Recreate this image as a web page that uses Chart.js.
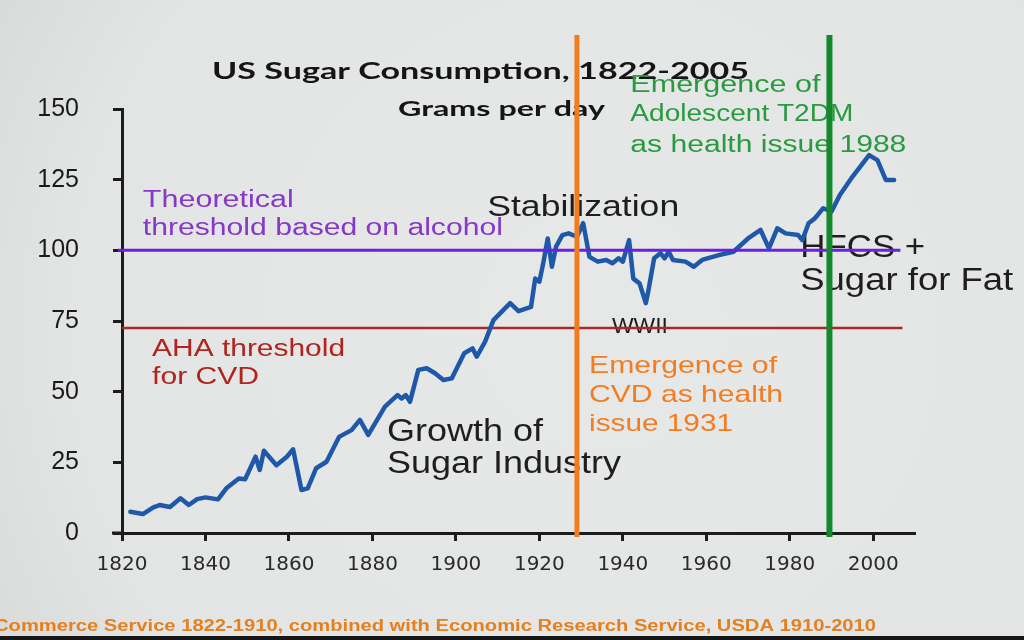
<!DOCTYPE html>
<html>
<head>
<meta charset="utf-8">
<script src="https://cdn.jsdelivr.net/npm/chart.js@4"></script>
<style>
html,body{margin:0;padding:0;background:#e3e5e4;overflow:hidden}
#c{display:block}
</style>
</head>
<body>
<canvas id="c" width="1024" height="640"></canvas>
<script>
// ---- data ----
const years = [1822,1825,1827.5,1829,1831.5,1834,1836,1838,1840,1843,1845,1848,1849.5,1852,1853,1854,1857,1859.5,1861,1863,1864.5,1866.5,1869,1872,1875,1877,1879,1883,1886,1887,1888,1889,1891,1893,1895,1897,1899,1902,1904,1905,1907,1909,1911,1913,1915,1918,1919,1920,1921,1922,1923,1924,1925.5,1927,1929,1930.5,1932,1934,1936,1937.5,1939,1940,1941.5,1942.5,1944,1945.5,1946,1947.5,1949,1950,1951,1952,1955,1957,1959,1963,1966.5,1970,1973,1975,1977,1979,1982,1983,1984.5,1986,1988,1990,1992,1995,1999,2001,2003,2005];
const grams = [7.5,6.7,9.1,9.9,9.2,12.3,9.9,12,12.6,11.9,15.8,19.3,19,27,22.3,29.1,24,27,29.6,15.2,15.8,22.9,25.2,34,36.4,40,34.7,44.7,48.8,47.6,48.8,46.4,57.7,58.3,56.5,54.1,54.7,63.6,65.3,62.4,67.7,75.3,78.3,81.3,78.5,80,90,88.9,96,104.2,94.2,101.3,105.4,106,104.8,109.6,97.7,96,96.6,95.4,97.2,96,103.6,90,88.3,81.3,84.8,97.2,99,97.2,99.5,96.6,96,94.2,96.6,98.3,99.5,104.2,107.2,100.7,107.8,106,105.4,103.6,109.6,111.3,114.9,113.7,119.6,126,133.7,131.9,124.9,124.9];
const alcoholYears = [1819, 2006.5];
const alcoholValues = [100, 100];
const ahaYears = [1820, 2007];
const ahaValues = [72.5, 72.5];
const eventYears = [1929, 1989.5];   // CVD emergence line, T2DM emergence line
const yTicks = [0, 25, 50, 75, 100, 125, 150];
const xTicks = [1820, 1840, 1860, 1880, 1900, 1920, 1940, 1960, 1980, 2000];

// ---- styles ----
const C = {
  blue:'#1f58a8', purpleLine:'#6c1fe3', purpleText:'#8638c9',
  redLine:'#a8282b', redText:'#b0231f', orange:'#f47c20',
  greenLine:'#13892b', greenText:'#2a9a40', dark:'#1c1c1c'
};
const F = '"Liberation Sans", Arial, sans-serif';

// annotation texts, anchored in data coordinates (year, grams)
const notes = [
  {t:'Theoretical', yr:1825, v:117.4, w:151, size:23, color:C.purpleText},
  {t:'threshold based on alcohol', yr:1825, v:107.5, w:360, size:23, color:C.purpleText},
  {t:'Stabilization', yr:1907.5, v:115.0, w:192, size:29, color:'#1e1e1e'},
  {t:'AHA threshold', yr:1827.2, v:64.7, w:193, size:23, color:C.redText},
  {t:'for CVD', yr:1827.2, v:54.8, w:107, size:23, color:C.redText},
  {t:'WWII', yr:1937.4, v:72.9, w:56, size:22, color:'#1e1e1e'},
  {t:'Emergence of', yr:1931.9, v:59.1, w:188, size:24, color:C.orange},
  {t:'CVD as health', yr:1931.9, v:48.8, w:194, size:24, color:C.orange},
  {t:'issue 1931', yr:1931.9, v:38.6, w:144, size:24, color:C.orange},
  {t:'Growth of', yr:1883.5, v:35.7, w:156, size:31, color:'#1e1e1e'},
  {t:'Sugar Industry', yr:1883.5, v:24.1, w:234, size:31, color:'#1e1e1e'},
  {t:'Emergence of', yr:1941.8, v:158.1, w:190, size:23, color:C.greenText},
  {t:'Adolescent T2DM', yr:1941.8, v:147.9, w:223, size:23, color:C.greenText},
  {t:'as health issue 1988', yr:1941.8, v:137.2, w:276, size:23, color:C.greenText},
  {t:'HFCS +', yr:1982.5, v:100.5, w:125, size:31, color:'#1e1e1e'},
  {t:'Sugar for Fat', yr:1982.5, v:89.1, w:213, size:31, color:'#1e1e1e'}
];

function drawStretched(ctx, text, x, y, width, font, color) {
  ctx.save();
  ctx.font = font;
  ctx.fillStyle = color;
  ctx.textBaseline = 'middle';
  ctx.textAlign = 'left';
  const m = ctx.measureText(text).width;
  ctx.translate(x, y);
  ctx.scale(width / m, 1);
  ctx.fillText(text, 0, 0);
  ctx.restore();
}

const deco = {
  id: 'deco',
  beforeDraw(chart) {
    const ctx = chart.ctx, W = chart.width, H = chart.height;
    ctx.save();
    const g = ctx.createRadialGradient(600, 330, 100, 600, 330, 760);
    g.addColorStop(0, '#e6e8e7');
    g.addColorStop(0.65, '#e3e5e4');
    g.addColorStop(1, '#d3d6d6');
    ctx.fillStyle = g;
    ctx.fillRect(0, 0, W, H);
    ctx.fillStyle = '#161616';
    ctx.fillRect(0, 636, W, H - 636);
    ctx.restore();
  },
  beforeDatasetsDraw(chart) {
    const ctx = chart.ctx;
    const xs = chart.scales.x, ys = chart.scales.y, area = chart.chartArea;
    // small extension of the x-axis line to the left of the y-axis, as in the slide
    ctx.save();
    ctx.strokeStyle = C.dark; ctx.lineWidth = 3;
    ctx.beginPath(); ctx.moveTo(area.left - 10, area.bottom); ctx.lineTo(area.left, area.bottom); ctx.stroke();
    ctx.restore();
    drawStretched(ctx, 'US Sugar Consumption, 1822-2005', 212, 72, 537, 'bold 22px Lato, "Open Sans", sans-serif', '#151515');
    drawStretched(ctx, 'Grams per day', 398, 110, 207, 'bold 20px Lato, "Open Sans", sans-serif', '#151515');
    notes.forEach(n => {
      drawStretched(ctx, n.t, xs.getPixelForValue(n.yr), ys.getPixelForValue(n.v), n.w, n.size + 'px ' + F, n.color);
    });
    drawStretched(ctx, 'Commerce Service 1822-1910, combined with Economic Research Service, USDA 1910-2010', -6, 627, 882, 'bold 16px "Liberation Sans Narrow", "Liberation Sans", sans-serif', '#e4801f');
  },
  afterDatasetsDraw(chart) {
    const ctx = chart.ctx;
    const xs = chart.scales.x, area = chart.chartArea;
    const cols = [C.orange, C.greenLine], widths = [5, 6];
    eventYears.forEach((yr, i) => {
      const x = xs.getPixelForValue(yr);
      ctx.save();
      ctx.strokeStyle = cols[i];
      ctx.lineWidth = widths[i];
      ctx.beginPath();
      ctx.moveTo(x, 35);
      ctx.lineTo(x, area.bottom + 4);
      ctx.stroke();
      ctx.restore();
    });
  }
};

const toPts = (xa, ya) => xa.map((x, i) => ({x, y: ya[i]}));

new Chart(document.getElementById('c'), {
  type: 'line',
  data: {
    datasets: [
      {data: toPts(years, grams), borderColor: C.blue, borderWidth: 4.5, pointRadius: 0, tension: 0, order: 1, borderJoinStyle: 'round', borderCapStyle: 'round'},
      {data: toPts(alcoholYears, alcoholValues), borderColor: C.purpleLine, borderWidth: 3, pointRadius: 0, order: 0, clip: false},
      {data: toPts(ahaYears, ahaValues), borderColor: C.redLine, borderWidth: 2.5, pointRadius: 0, order: 2}
    ]
  },
  options: {
    responsive: false,
    animation: false,
    devicePixelRatio: 1,
    layout: {padding: {top: 109, right: 109, bottom: 0, left: 0}},
    plugins: {legend: {display: false}, tooltip: {enabled: false}, title: {display: false}},
    scales: {
      x: {
        type: 'linear', min: 1820, max: 2010,
        afterBuildTicks: s => { s.ticks = xTicks.map(v => ({value: v})); },
        afterFit: s => { s.height = 107; },
        ticks: {includeBounds: false, color: '#2a2a2a', padding: 12, font: {family: '"DejaVu Sans", Verdana, sans-serif', size: 20}, maxRotation: 0,
                callback: v => String(v)},
        grid: {drawOnChartArea: false, drawTicks: true, tickLength: 8, tickColor: C.dark, tickWidth: 3},
        border: {display: true, color: C.dark, width: 3}
      },
      y: {
        min: 0, max: 150,
        afterBuildTicks: s => { s.ticks = yTicks.map(v => ({value: v})); },
        afterFit: s => { s.width = 122; },
        ticks: {color: '#1a1a1a', padding: 34, font: {family: F, size: 25}, callback: v => String(v)},
        grid: {drawOnChartArea: false, drawTicks: true, tickLength: 9, tickColor: C.dark, tickWidth: 3},
        border: {display: true, color: C.dark, width: 3}
      }
    }
  },
  plugins: [deco]
});
</script>
</body>
</html>
